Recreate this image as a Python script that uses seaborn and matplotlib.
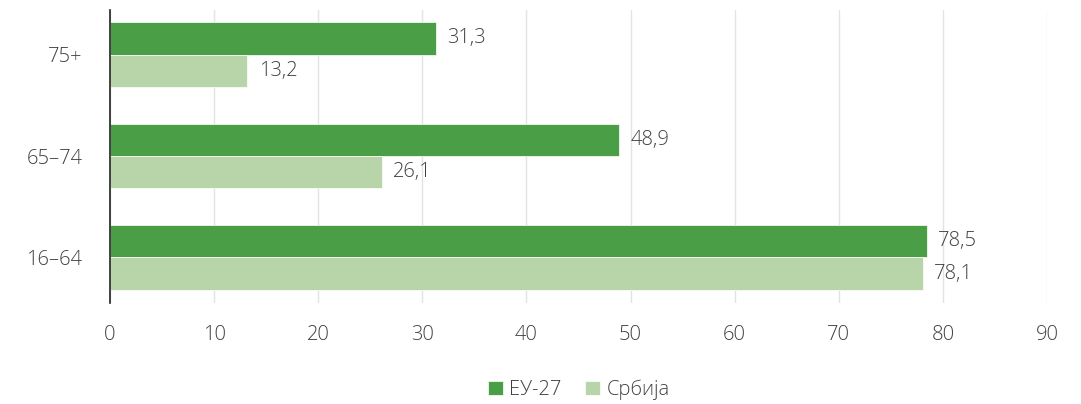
import pandas as pd
import matplotlib
matplotlib.use('Agg')
import matplotlib.pyplot as plt
import seaborn as sns

# Podaci
kategorije = ['75+', '65–74', '16–64']
eu27 = [31.3, 48.9, 78.5]
srbija = [13.2, 26.1, 78.1]
serije = ['ЕУ-27', 'Србија']
boje = ['#4a9f46', '#b8d4a9']

df = pd.DataFrame({
    'grupa': kategorije * 2,
    'vrednost': eu27 + srbija,
    'serija': [serije[0]] * 3 + [serije[1]] * 3,
})

sns.set_style('white')
plt.rcParams['font.family'] = ['Open Sans', 'DejaVu Sans']
plt.rcParams['font.weight'] = 'light'
tekst = '#404040'
fs = 14.5

fig = plt.figure(figsize=(10.81, 4.04), dpi=100)
ax = fig.add_axes([0.1018, 0.25, 0.8667, 0.725])

sns.barplot(data=df, x='vrednost', y='grupa', hue='serija', order=kategorije,
            hue_order=serije, palette=boje, saturation=1, orient='h', width=0.64,
            edgecolor='white', linewidth=0.5, ax=ax)

for cont in ax.containers:
    ax.bar_label(cont, labels=[f'{v:.1f}'.replace('.', ',') for v in cont.datavalues],
                 padding=8, fontsize=fs, color=tekst)

ax.set_xlim(0, 90)
ax.set_ylim(2.45, -0.44)
ax.set_xticks(range(0, 91, 10))
ax.grid(axis='x', color='#e3e3e3', linewidth=1)
ax.set_axisbelow(True)
for s in ['top', 'right', 'bottom']:
    ax.spines[s].set_visible(False)
ax.spines['left'].set_color('#222222')
ax.spines['left'].set_linewidth(1.2)
ax.tick_params(axis='both', length=0, labelsize=fs, labelcolor=tekst)
ax.tick_params(axis='x', pad=16)
ax.tick_params(axis='y', pad=20)
ax.set_xlabel('')
ax.set_ylabel('')

ax.legend(loc='upper center', bbox_to_anchor=(0.5, -0.2), ncol=2, frameon=False,
          fontsize=fs, handlelength=0.75, handleheight=0.75, handletextpad=0.3,
          columnspacing=1.2, labelcolor=tekst)

fig.savefig('out.png', dpi=100)
